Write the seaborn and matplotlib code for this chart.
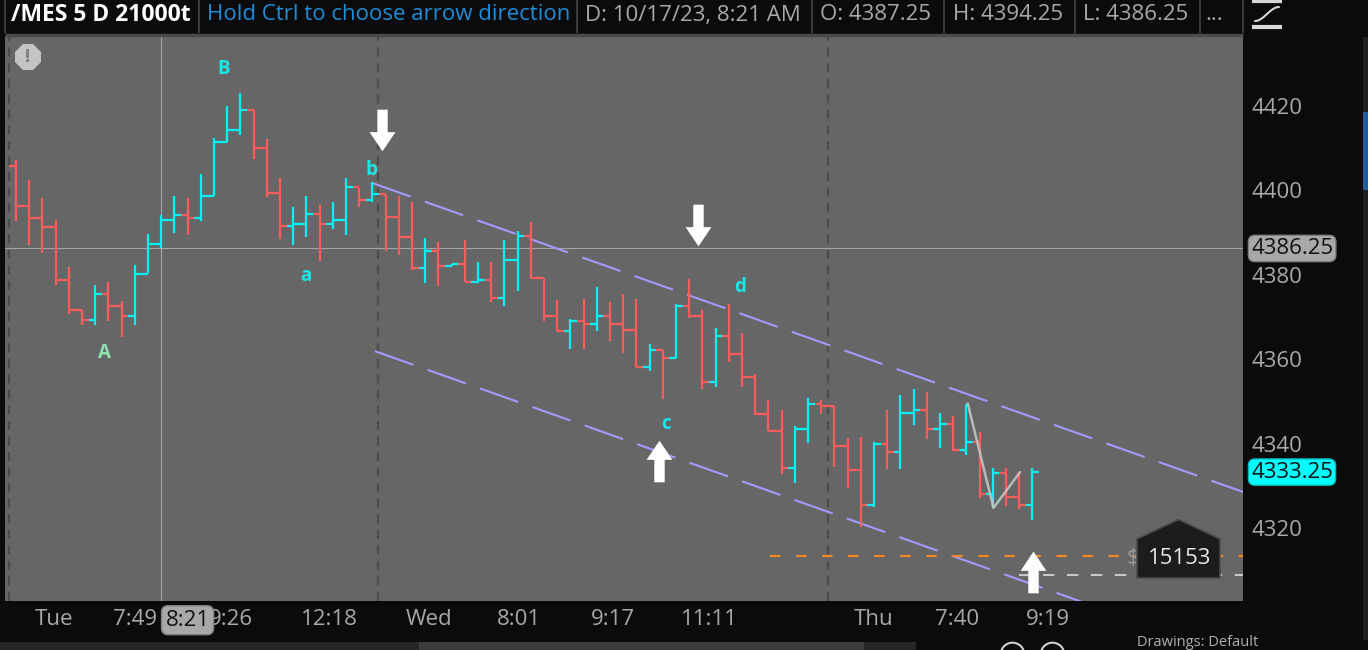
import numpy as np
import matplotlib
matplotlib.use("Agg")
import matplotlib.pyplot as plt
import matplotlib.transforms as mtransforms
from matplotlib.patches import Rectangle, Polygon
from matplotlib.path import Path
import seaborn as sns

# ---- bar data (21000-tick bars, /MES) ----
first_open = 4405.75
highs = [4407.25, 4402.5, 4398.25, 4393.0, 4381.75, 4371.75, 4377.5, 4378.25, 4373.75, 4382.25,
         4389.75, 4394.25, 4398.75, 4398.25, 4404.0, 4412.5, 4420.0, 4423.0, 4419.0, 4412.25,
         4403.0, 4396.0, 4398.75, 4396.5, 4397.25, 4403.0, 4400.5, 4402.0, 4399.0, 4398.75,
         4397.25, 4388.75, 4387.75, 4382.5, 4388.25, 4383.0, 4383.0, 4388.25, 4390.5, 4392.5,
         4379.25, 4374.0, 4369.5, 4374.25, 4377.0, 4373.5, 4375.5, 4374.25, 4363.5, 4362.25,
         4373.0, 4379.0, 4371.75, 4367.5, 4373.0, 4366.25, 4356.5, 4350.25, 4348.0, 4344.25,
         4350.75, 4350.25, 4349.0, 4341.25, 4341.5, 4340.5, 4348.0, 4351.5, 4353.0, 4352.25,
         4347.25, 4346.5, 4349.5, 4342.75, 4334.25, 4334.25, 4333.25, 4334.25]
lows = [4392.75, 4387.0, 4385.25, 4377.5, 4370.75, 4368.0, 4368.0, 4369.0, 4365.25, 4368.0,
        4380.5, 4386.25, 4390.0, 4389.5, 4392.75, 4398.75, 4411.5, 4413.25, 4407.5, 4398.5,
        4388.5, 4387.0, 4389.0, 4383.25, 4390.75, 4389.5, 4396.0, 4397.25, 4385.75, 4384.75,
        4381.25, 4378.0, 4377.25, 4382.0, 4378.25, 4378.0, 4373.5, 4372.5, 4376.25, 4379.25,
        4369.0, 4366.75, 4362.5, 4362.5, 4366.75, 4364.25, 4361.5, 4358.25, 4357.25, 4350.5,
        4360.25, 4369.75, 4353.0, 4353.5, 4359.25, 4353.5, 4346.75, 4343.0, 4332.75, 4330.75,
        4340.25, 4347.0, 4334.5, 4329.5, 4320.25, 4325.0, 4334.0, 4334.0, 4344.5, 4341.0,
        4339.0, 4338.25, 4337.25, 4327.0, 4324.75, 4325.25, 4324.5, 4322.0]
closes = [4396.25, 4393.5, 4391.25, 4378.75, 4371.75, 4369.25, 4375.5, 4372.5, 4370.25, 4380.25,
          4387.25, 4393.0, 4394.25, 4393.5, 4398.75, 4411.5, 4414.25, 4419.0, 4410.0, 4399.5,
          4391.5, 4392.0, 4394.5, 4392.0, 4393.0, 4400.75, 4397.75, 4399.25, 4393.75, 4389.0,
          4381.5, 4385.75, 4382.0, 4382.5, 4378.25, 4378.75, 4374.5, 4383.5, 4389.25, 4379.25,
          4370.25, 4366.75, 4369.0, 4368.25, 4370.25, 4368.25, 4367.0, 4358.25, 4362.25, 4360.25,
          4372.5, 4370.25, 4354.5, 4365.5, 4361.25, 4355.75, 4347.0, 4343.0, 4334.25, 4343.5,
          4349.5, 4349.0, 4339.5, 4333.75, 4325.5, 4340.0, 4338.0, 4347.25, 4348.0, 4343.5,
          4344.75, 4338.5, 4340.5, 4328.0, 4333.0, 4327.25, 4325.5, 4333.25]

# ---- time axis ----
tick_pos = [2.9, 9.0, 16.3, 23.75, 31.25, 38.1, 45.2, 52.55, 65.0, 71.3, 78.2]
tick_labels = ["Tue", "7:49", "9:26", "12:18", "Wed", "8:01", "9:17", "11:11", "Thu", "7:40", "9:19"]
session_breaks = [-0.5, 27.4, 61.5]
price_ticks = [4320, 4340, 4360, 4380, 4400, 4420]

# ---- drawings ----
cross_bar = 11
cross_price = 4386.25
cross_time_pos = 13.0
cross_time = "8:21"
last_price = 4333.25

upper_x = [27.0, 93.0]
upper_y = [4401.75, 4328.5]
lower_x = [27.2, 93.0]
lower_y = [4361.9, 4288.9]

zigzag_x = [72.1, 74.05, 76.06]
zigzag_y = [4349.5, 4324.75, 4333.25]

order_price = 4313.25
order_start = 57.1
stop_price = 4308.75
stop_start = 76.0

down_arrow_x = [27.75, 51.7]
down_arrow_y = [4414.3, 4391.9]
up_arrow_x = [48.73, 77.07]
up_arrow_y = [4335.8, 4309.5]

wave_labels = ["A", "B", "a", "b", "c", "d"]
wave_x = [6.67, 15.76, 21.97, 26.9, 49.2, 54.85]
wave_y = [4361.5, 4428.8, 4379.7, 4404.8, 4344.6, 4377.1]
wave_colors = ["#8fe3b0", "#19e6e6", "#19e6e6", "#19e6e6", "#19e6e6", "#19e6e6"]

UP = "#00f2f2"
DOWN = "#ff5c5c"
BG = "#0b0b0b"
PLOT_BG = "#666666"
GREY_TXT = "#a9a9a9"

sns.set_theme(style="dark")
plt.rcParams["font.family"] = ["Open Sans", "DejaVu Sans"]

fig = plt.figure(figsize=(13.68, 6.5), dpi=100, facecolor=BG)
ax = fig.add_axes([5 / 1368, 49 / 650, 1238 / 1368, 565 / 650])
ax.set_facecolor(PLOT_BG)
for s in ax.spines.values():
    s.set_visible(False)

idx = np.arange(len(closes))
opens = np.array([first_open] + closes[:-1])
c = np.array(closes)
colors = np.where(c >= opens, UP, DOWN)

ax.vlines(idx, lows, highs, colors=colors, lw=1.6, zorder=4)
ax.hlines(opens, idx - 0.5, idx, colors=colors, lw=1.6, zorder=4)
ax.hlines(c, idx, idx + 0.5, colors=colors, lw=1.6, zorder=4)

ax.set_xlim(-0.83, 92.95)
ax.set_ylim(4302.7, 4436.6)

# session separators + crosshair
for sb in session_breaks:
    ax.axvline(sb, color="#4c4c4c", lw=1.6, ls=(0, (4, 3)), zorder=1)
ax.axvline(cross_bar, color="#a6a6a6", lw=0.8, zorder=2)
ax.axhline(cross_price, color="#a6a6a6", lw=0.8, zorder=2)

# trend channel
ax.plot(upper_x, upper_y, color="#a29bfe", lw=1.5, ls=(0, (19.5, 7.2)), zorder=3)
ax.plot(lower_x, lower_y, color="#a29bfe", lw=1.5, ls=(0, (19.5, 7.2)), zorder=3)

# zigzag
sns.lineplot(x=zigzag_x, y=zigzag_y, color="#c4c4c4", lw=1.8, alpha=0.9, ax=ax, zorder=5)

# order lines
ax.hlines(order_price, order_start, 93, color="#f5891f", lw=1.5, ls=(0, (5, 7.5)), zorder=3)
ax.hlines(stop_price, stop_start, 93, color="#c8c8c8", lw=1.5, ls=(0, (5.5, 6)), zorder=3)

# arrows as custom markers
down_path = Path([(0, -1), (0.62, -0.08), (0.25, -0.08), (0.25, 1), (-0.25, 1),
                  (-0.25, -0.08), (-0.62, -0.08), (0, -1)])
up_path = Path([(x, -y) for x, y in down_path.vertices])
ax.plot(down_arrow_x, down_arrow_y, ls="none", marker=down_path, ms=30, color="white",
        mew=0, zorder=6)
ax.plot(up_arrow_x, up_arrow_y, ls="none", marker=up_path, ms=30, color="white",
        mew=0, zorder=6)

for lab, x, y, col in zip(wave_labels, wave_x, wave_y, wave_colors):
    ax.text(x, y, lab, color=col, fontsize=13.5, fontweight="bold", ha="center", va="center",
            zorder=6)

# axes ticks
ax.yaxis.tick_right()
ax.set_yticks(price_ticks)
ax.set_yticklabels([str(p) for p in price_ticks])
ax.tick_params(axis="y", length=0, pad=6, labelcolor=GREY_TXT, labelsize=16)
ax.set_xticks(tick_pos)
ax.set_xticklabels(tick_labels)
ax.tick_params(axis="x", length=0, pad=6, labelcolor=GREY_TXT, labelsize=16)
ax.grid(False)
ax.set_xlabel("")
ax.set_ylabel("")

bt = mtransforms.blended_transform_factory(ax.transAxes, ax.transData)
ax.text(1.0065, cross_price, f"{cross_price:.2f}", transform=bt, ha="left", va="center",
        fontsize=16, color="#111111", clip_on=False, zorder=10,
        bbox=dict(boxstyle="round,pad=0.12,rounding_size=0.3", fc="#a8a8a8", ec="#808080", lw=1))
ax.text(1.0065, last_price, f"{last_price:.2f}", transform=bt, ha="left", va="center",
        fontsize=16, color="#111111", clip_on=False, zorder=10,
        bbox=dict(boxstyle="round,pad=0.12,rounding_size=0.3", fc="#00ffff", ec="#00b8b8", lw=1))
tb = mtransforms.blended_transform_factory(ax.transData, ax.transAxes)
ax.text(cross_time_pos, -0.034, cross_time, transform=tb, ha="center", va="center",
        fontsize=16, color="#111111", clip_on=False, zorder=10,
        bbox=dict(boxstyle="round,pad=0.18,rounding_size=0.3", fc="#a8a8a8", ec="#808080", lw=1))

# ---- UI chrome (pixel coordinates) ----
ui = fig.add_axes([0, 0, 1, 1], zorder=5)
ui.set_xlim(0, 1368)
ui.set_ylim(650, 0)
ui.axis("off")

ui.vlines([5, 199, 577, 812, 944, 1075, 1200, 1243], 0, 33, color="#3a3a3a", lw=1.5)
ui.hlines(34.5, 5, 1243, color="#4a4a4a", lw=2.5)
hdr = [("/MES 5 D 21000t", 11, "#ffffff", "bold", 16.5),
       ("Hold Ctrl to choose arrow direction", 207, "#1f8dd6", "normal", 16),
       ("D: 10/17/23, 8:21 AM", 585, GREY_TXT, "normal", 16),
       ("O: 4387.25", 820, GREY_TXT, "normal", 16),
       ("H: 4394.25", 953, GREY_TXT, "normal", 16),
       ("L: 4386.25", 1083, GREY_TXT, "normal", 16),
       ("...", 1205, GREY_TXT, "normal", 16)]
for txt, x, col, fw, fs in hdr:
    ui.text(x, 15, txt, color=col, fontsize=fs, fontweight=fw, ha="left", va="center")

# study icon top right
ui.hlines(27, 1252, 1282, color="#d8d8d8", lw=3)
ui.hlines(1, 1252, 1282, color="#d8d8d8", lw=3)
tt = np.linspace(0, 1, 30)
ui.plot(1255 + 24 * tt, 21 - 14 * (0.5 - 0.5 * np.cos(np.pi * tt)), color="#d8d8d8", lw=1.5)

# alert icon
ui.plot(28, 57, marker="8", ms=20, color="#c4c4c4", mew=0)
ui.text(28, 57.5, "!", color="#7a7a7a", fontsize=13, fontweight="bold", ha="center", va="center")

# position box
ui.text(1133, 558, "$", color="#9a9a9a", fontsize=16, ha="center", va="center", zorder=1)
ui.add_patch(Polygon([(1137, 578), (1137, 539), (1178.5, 519.5), (1220, 539), (1220, 578)],
                     closed=True, fc="#1c1c1c", ec="#4a4a4a", lw=1.2, zorder=2))
ui.text(1180, 558, "15153", color="#e8e8e8", fontsize=16, ha="center", va="center", zorder=3)

# bottom scrollbar / toolbar
ui.add_patch(Rectangle((0, 642), 419, 8, fc="#262626", ec="none"))
ui.add_patch(Rectangle((419, 642), 445, 8, fc="#3c3c3c", ec="none"))
ui.add_patch(Rectangle((864, 642), 52, 8, fc="#262626", ec="none"))
ui.plot([1012, 1052], [654, 654], ls="none", marker="o", ms=17, mfc="none", mec="#cfcfcf", mew=1.5)
ui.text(1137, 642, "Drawings: Default", color="#b0b0b0", fontsize=10.5, ha="left", va="center")

# right scroll strip
ui.add_patch(Rectangle((1363, 37), 5, 603, fc="#1e1e1e", ec="none"))
ui.add_patch(Rectangle((1363, 112), 5, 78, fc="#1c5f9c", ec="none"))

fig.savefig("out.png", dpi=100, facecolor=BG)
